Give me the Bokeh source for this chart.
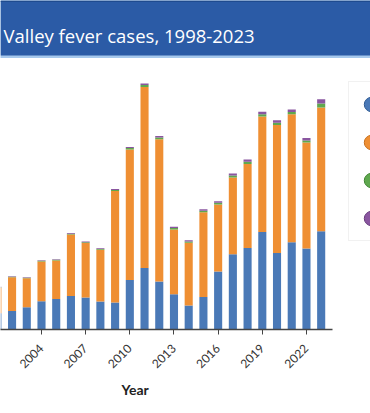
import math
from bokeh.plotting import figure
from bokeh.models import (ColumnDataSource, Range1d, FixedTicker, Legend, LegendItem,
                          Label, Title, BoxAnnotation)
from bokeh.core.properties import value
from bokeh.layouts import column
from bokeh.embed import file_html
from bokeh.resources import INLINE

# ---------------- data ----------------
years = list(range(2001, 2024))
california = [1500, 1710, 2050, 2600, 2815, 3090, 2945, 2575, 2485, 4565, 5665, 4415,
              3250, 2210, 3000, 5335, 6930, 7505, 8980, 7045, 8030, 7450, 9045]
arizona = [2330, 3100, 2670, 3660, 3540, 5650, 5005, 4755, 10265, 12005, 16645, 13090,
           5945, 5760, 7790, 6175, 7055, 7730, 10610, 11775, 11765, 9760, 11370]
other_endemic = [46, 46, 46, 55, 55, 74, 74, 74, 92, 120, 184, 166,
                 138, 129, 138, 147, 184, 202, 202, 202, 212, 184, 368]
non_endemic = [46, 46, 46, 55, 55, 74, 74, 74, 92, 110, 138, 138,
               110, 120, 138, 147, 184, 202, 230, 230, 230, 230, 405]
tick_years = list(range(1998, 2024, 3))
title_text = "Valley fever cases, 1998-2023"
x_title = "Year"

colors = ["#4a79b7", "#ef8f33", "#5fa84e", "#8a56a0"]
edge_colors = ["#2f5a93", "#c86f1c", "#3f8532", "#673c7c"]

W = 370
HEAD_H = 58
MAIN_H = 413 - HEAD_H
PX_PER_YEAR = 14.72
CASES_PER_PX = 92.0
X0 = 2004 - 41 / PX_PER_YEAR

# ---------------- header band ----------------
header = figure(width=W, height=HEAD_H, output_backend="svg", toolbar_location=None,
                x_range=Range1d(0, W), y_range=Range1d(0, HEAD_H),
                x_axis_location=None, y_axis_location=None, min_border=0,
                outline_line_color=None)
header.grid.visible = False
header.background_fill_color = "#a6c8ec"
header.border_fill_color = "#a6c8ec"
header.add_layout(BoxAnnotation(bottom=3, fill_color="#2b5ba6", fill_alpha=1.0,
                                line_color=None))
header.add_layout(BoxAnnotation(bottom=HEAD_H - 1.5, fill_color="#1f4b8f", fill_alpha=1.0,
                                line_color=None))
header.add_layout(Label(x=3, y=23.3, text=title_text, text_align="left",
                        text_baseline="alphabetic", text_color="white",
                        text_font="Open Sans", text_font_size="18.5px"))

# ---------------- main chart ----------------
p = figure(width=W, height=MAIN_H, output_backend="svg", toolbar_location=None,
           x_range=Range1d(X0, X0 + W / PX_PER_YEAR),
           y_range=Range1d(0, 261 * CASES_PER_PX),
           y_axis_location=None, min_border_left=0, min_border_right=0,
           min_border_top=10, min_border_bottom=84, outline_line_color=None)
p.xgrid.visible = False
p.ygrid.visible = False

src = ColumnDataSource(dict(year=years, california=california, arizona=arizona,
                            other=other_endemic, non=non_endemic))
keys = ["california", "arizona", "other", "non"]
p.vbar_stack(keys, x="year", width=0.55, fill_color=colors, line_color=None, source=src)

ax = p.xaxis[0]
ax.bounds = (X0, years[-1] + 0.77)
ax.ticker = FixedTicker(ticks=tick_years)
ax.minor_tick_line_color = None
ax.major_tick_out = 5
ax.major_tick_in = 0
ax.major_tick_line_color = "#444444"
ax.axis_line_color = "#444444"
ax.axis_line_width = 1.3
ax.major_label_orientation = math.pi / 4
ax.major_label_standoff = 12
ax.major_label_text_font = "Lato"
ax.major_label_text_font_size = "12px"
ax.major_label_text_color = "#333333"

p.add_layout(Title(text=x_title, align="left", offset=121, text_font="Lato",
                   text_font_size="14px", text_font_style="bold",
                   text_color="#222222", standoff=9), "below")

nan = float("nan")
proxies = [p.scatter(x=[nan], y=[nan], marker="circle", size=14, fill_color=c,
                     line_color=e, line_width=1) for c, e in zip(colors, edge_colors)]
legend = Legend(items=[LegendItem(label=value(""), renderers=[r]) for r in proxies],
                location=(348, 88), padding=4, spacing=2, margin=0,
                glyph_width=36, glyph_height=36, label_standoff=8,
                label_text_font="Lato", label_text_font_size="13px",
                label_text_color="#333333",
                border_line_color="#e3e3e3", border_line_width=1,
                background_fill_color="white", background_fill_alpha=1.0)
p.add_layout(legend)

layout = column(header, p)
open("out.html", "w").write(file_html(layout, INLINE))
